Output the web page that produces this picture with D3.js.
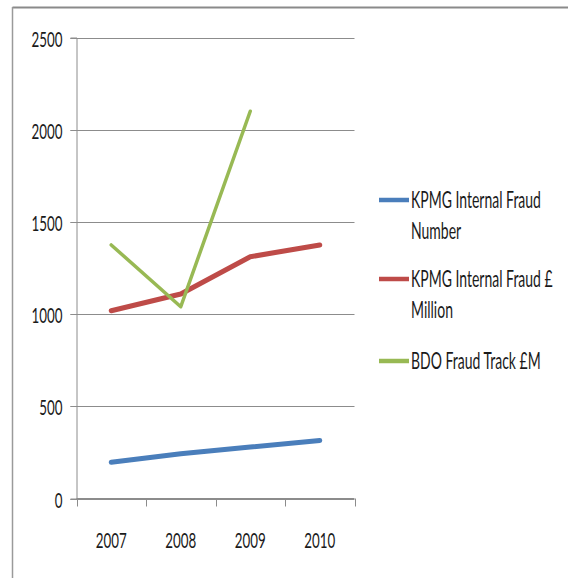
<!DOCTYPE html>
<html><head><meta charset="utf-8">
<script src="https://cdn.jsdelivr.net/npm/d3@7"></script>
<style>html,body{margin:0;padding:0;background:#fff;}svg{display:block;}</style>
</head><body>
<script>
const categories = ["2007", "2008", "2009", "2010"];
const kpmgNumber = [197, 243, 279, 315];
const kpmgMillion = [1018, 1109, 1311, 1375];
const bdoFraud = [1375, 1040, 2100, null];
const yTicks = [0, 500, 1000, 1500, 2000, 2500];
const seriesNames = [["KPMG Internal Fraud", "Number"], ["KPMG Internal Fraud £", "Million"], ["BDO Fraud Track £M"]];
const seriesColors = ["#4a7ebb", "#be4b48", "#98b954"];
const seriesWidths = [5, 5, 3.5];

const W = 568, H = 578;
const svg = d3.select("body").append("svg").attr("width", W).attr("height", H);
const font = "Lato,'DejaVu Sans Condensed',sans-serif";

// outer border
svg.append("line").attr("x1", 12.5).attr("x2", 568).attr("y1", 7.5).attr("y2", 7.5).attr("stroke", "#8a8a8a").attr("stroke-width", 2);
svg.append("line").attr("x1", 12.5).attr("x2", 12.5).attr("y1", 7).attr("y2", 578).attr("stroke", "#9a9a9a").attr("stroke-width", 1.5);

const pLeft = 76.5, pRight = 354.5, pTop = 37.5, pBottom = 498.5;
const x = d3.scaleBand().domain(categories).range([pLeft, pRight]);
const y = d3.scaleLinear().domain([0, 2500]).range([pBottom, pTop]);

// measure helper for horizontal squeeze (Calibri-like narrow text)
function measure(txt, size) {
  const t = svg.append("text").attr("font-family", font).attr("font-size", size).text(txt);
  const w = t.node().getComputedTextLength();
  t.remove();
  return w;
}
const axisSX = 31 / measure("2500", 17);
const legSX = 130 / measure("KPMG Internal Fraud", 17);

// gridlines
svg.append("g").selectAll("line").data(yTicks).join("line")
  .attr("x1", pLeft - 6).attr("x2", pRight).attr("y1", d => Math.round(y(d)) + 0.5).attr("y2", d => Math.round(y(d)) + 0.5)
  .attr("stroke", "#8c8c8c").attr("stroke-width", 1);

// y axis
const yAxis = d3.axisLeft(y).tickValues(yTicks).tickSize(6).tickPadding(8).tickFormat(d3.format("d"));
const gy = svg.append("g").attr("transform", `translate(${pLeft},0)`).call(yAxis);
gy.select(".domain").attr("stroke", "#8c8c8c");
gy.selectAll(".tick line").attr("stroke", "#8c8c8c");
gy.selectAll(".tick text").attr("font-family", font).attr("font-size", 17).attr("fill", "#1a1a1a")
  .attr("x", null).attr("y", null).attr("dy", null).attr("dominant-baseline", "central")
  .attr("transform", `translate(-14,0) scale(${axisSX},1.25)`);
gy.selectAll(".tick").attr("transform", d => `translate(0,${Math.round(y(d)) + 0.5})`);

// x axis
const xAxis = d3.axisBottom(x).tickSize(0).tickPadding(0);
const gx = svg.append("g").attr("transform", `translate(0,${pBottom})`).call(xAxis);
gx.select(".domain").attr("stroke", "#8c8c8c").attr("d", `M${pLeft},0H${pRight}`);
gx.selectAll(".tick text").attr("font-family", font).attr("font-size", 17).attr("fill", "#1a1a1a")
  .attr("y", null).attr("dy", null).attr("transform", `translate(0,49) scale(${axisSX},1.25)`);
// category boundary ticks
const bounds = categories.map(c => x(c)).concat([x(categories[categories.length - 1]) + x.bandwidth()]);
svg.append("g").selectAll("line").data(bounds).join("line")
  .attr("x1", d => Math.round(d) + 0.5).attr("x2", d => Math.round(d) + 0.5)
  .attr("y1", pBottom).attr("y2", pBottom + 8).attr("stroke", "#8c8c8c");

// lines
const allSeries = [kpmgNumber, kpmgMillion, bdoFraud];
const lineGen = d3.line().defined(d => d.v != null).x(d => x(d.c) + x.bandwidth() / 2).y(d => y(d.v));
allSeries.forEach((s, i) => {
  svg.append("path").datum(categories.map((c, j) => ({ c, v: s[j] })))
    .attr("d", lineGen).attr("fill", "none").attr("stroke", seriesColors[i])
    .attr("stroke-width", seriesWidths[i]).attr("stroke-linejoin", "round").attr("stroke-linecap", "round");
});

// legend
const legendY = [200, 279, 361];
const lg = svg.append("g");
seriesNames.forEach((lines, i) => {
  lg.append("line").attr("x1", 379).attr("x2", 409).attr("y1", legendY[i]).attr("y2", legendY[i])
    .attr("stroke", seriesColors[i]).attr("stroke-width", 4.5);
  lines.forEach((t, k) => {
    lg.append("text").attr("transform", `translate(411,${legendY[i] + 8 + k * 31}) scale(${legSX},1.35)`)
      .attr("font-family", font).attr("font-size", 17).attr("fill", "#1a1a1a").text(t);
  });
});
</script>
</body></html>
